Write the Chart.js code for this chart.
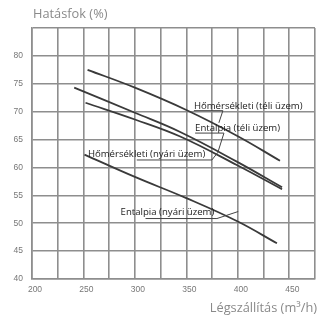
<!DOCTYPE html>
<html>
<head>
<meta charset="utf-8">
<script src="https://cdn.jsdelivr.net/npm/chart.js@4/dist/chart.umd.min.js"></script>
<style>
html,body{margin:0;padding:0;background:#fff;}
#wrap{width:322px;height:318px;position:relative;}
</style>
</head>
<body>
<div id="wrap"><canvas id="c" width="322" height="318"></canvas></div>
<script>
// ---- data ----
const yTitle = 'Hatásfok (%)';
const xTitle = 'Légszállítás (m³/h)';
const xMin = 200, xMax = 475, xStep = 25, xLabelStep = 50;
const yMin = 40, yMax = 85, yStep = 5, yLabelMax = 80;

const seriesNames = ['Hőmérsékleti (téli üzem)', 'Entalpia (téli üzem)', 'Hőmérsékleti (nyári üzem)', 'Entalpia (nyári üzem)'];

const homTeliX = [254, 300, 350, 400, 441];
const homTeliY = [77.5, 74.3, 70.3, 65.6, 61.2];

const entTeliX = [241, 300, 344, 399, 443];
const entTeliY = [74.3, 69.8, 66.35, 61.05, 56.45];

const homNyariX = [252, 300, 344, 399, 443];
const homNyariY = [71.6, 68.6, 65.55, 60.45, 56.1];

const entNyariX = [251, 300, 350, 400, 438];
const entNyariY = [62.3, 58.3, 54.5, 50.3, 46.4];

// callout labels: text anchor, underline span and leader end, in data units
const callouts = [
  {text: seriesNames[0], tx: 357.3, ty: 70.9, u0: 357.3, u1: 385.5, uy: 70.18, lx: 381.6, ly: 68.0},
  {text: seriesNames[1], tx: 358.5, ty: 67.1, u0: 358.5, u1: 386.5, uy: 66.16, lx: 380.6, ly: 62.7},
  {text: seriesNames[2], tx: 254.3, ty: 62.3, u0: 301.8, u1: 374.8, uy: 61.34, lx: 380.6, ly: 62.7},
  {text: seriesNames[3], tx: 286.1, ty: 51.9, u0: 310.3, u1: 379.7, uy: 50.84, lx: 400.4, ly: 52.1}
];

function pts(xs, ys){ return xs.map((x,i)=>({x:x, y:ys[i]})); }

const lineStyle = {borderColor:'#3a3a3a', borderWidth:1.8, pointRadius:0, fill:false, tension:0.4};

const gridColor = '#8e8e8e';

const overlay = {
  id:'overlay',
  afterDatasetsDraw(chart){
    const ctx = chart.ctx, xs = chart.scales.x, ys = chart.scales.y;
    ctx.save();
    ctx.font = '9.6px "Open Sans"';
    ctx.textBaseline = 'middle';
    ctx.textAlign = 'left';
    callouts.forEach(c=>{
      ctx.fillStyle = '#222';
      ctx.fillText(c.text, xs.getPixelForValue(c.tx), ys.getPixelForValue(c.ty));
      ctx.strokeStyle = '#444';
      ctx.lineWidth = 1;
      ctx.beginPath();
      ctx.moveTo(xs.getPixelForValue(c.u0), ys.getPixelForValue(c.uy));
      ctx.lineTo(xs.getPixelForValue(c.u1), ys.getPixelForValue(c.uy));
      ctx.lineTo(xs.getPixelForValue(c.lx), ys.getPixelForValue(c.ly));
      ctx.stroke();
    });
    // axis titles
    ctx.fillStyle = '#8a8a8a';
    ctx.font = '12.8px "Open Sans"';
    ctx.textBaseline = 'alphabetic';
    ctx.textAlign = 'left';
    ctx.fillText(yTitle, 33, 18);
    ctx.textAlign = 'right';
    ctx.fillText(xTitle, 317, 312);
    ctx.restore();
  }
};

new Chart(document.getElementById('c'), {
  type:'line',
  data:{
    datasets:[
      Object.assign({label:seriesNames[0], data:pts(homTeliX, homTeliY)}, lineStyle),
      Object.assign({label:seriesNames[1], data:pts(entTeliX, entTeliY)}, lineStyle),
      Object.assign({label:seriesNames[2], data:pts(homNyariX, homNyariY)}, lineStyle),
      Object.assign({label:seriesNames[3], data:pts(entNyariX, entNyariY)}, lineStyle)
    ]
  },
  options:{
    responsive:false,
    animation:false,
    devicePixelRatio:1,
    layout:{padding:{top:28, right:7, left:0, bottom:0}},
    plugins:{legend:{display:false}, tooltip:{enabled:false}},
    scales:{
      x:{
        type:'linear', min:xMin, max:xMax,
        afterFit(s){ s.height = 39; },
        grid:{color:gridColor, lineWidth:1.6, drawTicks:false},
        border:{color:gridColor, width:1.6},
        ticks:{stepSize:xStep, padding:6, labelOffset:3, color:'#777', font:{family:'"Liberation Sans", Arial', size:8.5},
          maxRotation:0, autoSkip:false,
          callback:(v)=> (v % xLabelStep === 0 ? String(v) : '')}
      },
      y:{
        type:'linear', min:yMin, max:yMax,
        afterFit(s){ s.width = 32; },
        grid:{color:gridColor, lineWidth:1.6, drawTicks:false},
        border:{color:gridColor, width:1.6},
        ticks:{stepSize:yStep, padding:9, color:'#777', font:{family:'"Liberation Sans", Arial', size:8.5},
          callback:(v)=> (v <= yLabelMax ? String(v) : '')}
      }
    }
  },
  plugins:[overlay]
});
</script>
</body>
</html>
